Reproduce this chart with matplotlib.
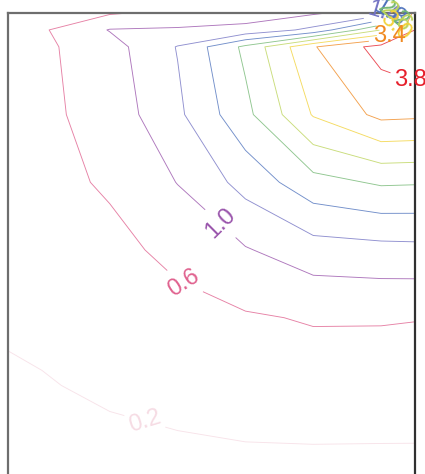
import numpy as np
import matplotlib
matplotlib.use("Agg")
import matplotlib.pyplot as plt

# grid of the field (columns left -> right, rows top -> bottom)
x_grid = [-1, 0, 1, 2, 3, 4, 5, 6]
y_grid = [-0.5, -0.25, 0, 1, 2, 3, 4, 5, 6, 7]
z_rows = [
    [0.33, 0.45, 0.56, 0.70, 0.80, 0.95, 1.20, 6.00],
    [0.38, 0.55, 1.02, 1.05, 1.12, 1.50, 2.60, 5.00],
    [0.42, 0.52, 0.84, 1.42, 2.29, 3.37, 3.95, 4.60],
    [0.40, 0.51, 0.76, 1.32, 2.09, 3.03, 3.50, 3.45],
    [0.36, 0.45, 0.66, 1.01, 1.54, 2.06, 2.25, 2.22],
    [0.30, 0.35, 0.47, 0.72, 0.97, 1.22, 1.27, 1.30],
    [0.22, 0.27, 0.36, 0.45, 0.56, 0.63, 0.63, 0.60],
    [0.12, 0.18, 0.25, 0.30, 0.35, 0.40, 0.38, 0.37],
    [0.06, 0.08, 0.12, 0.15, 0.17, 0.17, 0.17, 0.17],
    [0.03, 0.04, 0.06, 0.07, 0.08, 0.08, 0.08, 0.08],
]
levels = [0.2, 0.6, 1.0, 1.4, 1.8, 2.2, 2.6, 3.0, 3.4, 3.8]
line_colors = ["#f6dce4", "#e0628f", "#9a55ac", "#7474c4", "#4f73bd",
               "#74b874", "#bcd45a", "#f2d23a", "#f08a22", "#e6202c"]

# where each level's label sits
label_spots = [(1.5, 5.58), (2.05, 3.56), (2.6, 2.64),
               (5.50, -0.50), (5.40, -0.42), (5.30, -0.36), (5.35, -0.30),
               (5.35, -0.20), (5.15, -0.10), (5.45, 0.45)]
upright = [3.4, 3.8]

plt.rcParams["font.family"] = ["Liberation Sans", "DejaVu Sans"]

fig = plt.figure(figsize=(4.25, 4.74), dpi=100)
ax = fig.add_axes([8 / 425, -13 / 474, 407 / 425, 1.0])

z = np.array(z_rows)
for lev, col, spot in zip(levels, line_colors, label_spots):
    cs = ax.contour(x_grid, y_grid, z, levels=[lev], colors=[col],
                    linewidths=0.65, alpha=0.8)
    labels = ax.clabel(cs, fmt="%.1f", fontsize=17, inline=True,
                       inline_spacing=2, manual=[spot])
    for t in labels:
        t.set_color(col)
        t.set_alpha(1)
        t.set_clip_on(False)
        if lev in upright:
            t.set_rotation(0)

ax.set_xlim(-0.5, 5.5)
ax.set_ylim(6.5, -0.5)
ax.set_xticks([])
ax.set_yticks([])
for side in ["left", "top"]:
    ax.spines[side].set_color("#6e6e6e")
    ax.spines[side].set_linewidth(1.6)
ax.spines["right"].set_color("#303030")
ax.spines["right"].set_linewidth(1.6)
ax.spines["bottom"].set_visible(False)

fig.savefig("out.png", dpi=100)
